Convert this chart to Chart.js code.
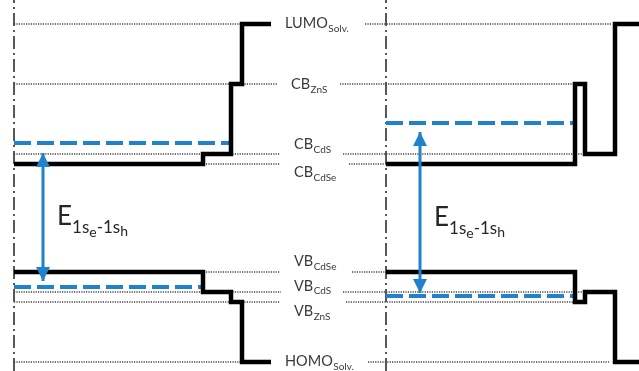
<!DOCTYPE html>
<html>
<head>
<meta charset="utf-8">
<script src="https://cdn.jsdelivr.net/npm/chart.js@4.4.1/dist/chart.umd.min.js"></script>
<style>
  html, body { margin: 0; padding: 0; background: #fff; }
  #wrap { width: 639px; height: 371px; }
</style>
</head>
<body>
<div id="wrap"><canvas id="bands" width="639" height="371"></canvas></div>
<script>
// Energy levels (arbitrary units)
const levelNames  = ['LUMO', 'CB', 'CB', 'CB', 'VB', 'VB', 'VB', 'HOMO'];
const levelSubs   = ['Solv.', 'ZnS', 'CdS', 'CdSe', 'CdSe', 'CdS', 'ZnS', 'Solv.'];
const levelEnergy = [347, 287, 217, 207, 99, 79, 69, 9];

// dotted guide lines: left and right part of every level
const leftDotFrom  = [14, 14, 14, 14, 14, 14, 14, 14];
const leftDotTo    = [242, 278, 280, 280, 280, 281, 280, 242];
const rightDotFrom = [365, 340, 343, 349, 352, 343, 346, 368];
const rightDotTo   = [612, 575, 616, 386, 386, 582, 574, 609];

// left: CdSe / CdS / ZnS / solvent
const leftBounds = [14, 203, 231, 242, 271];
const leftCB     = [207, 217, 287, 347];
const leftVB     = [99, 79, 69, 9];

// right: CdSe / ZnS / CdS / solvent
const rightBounds = [386, 575, 585, 615, 639];
const rightCB     = [207, 287, 217, 347];
const rightVB     = [99, 69, 79, 9];

// 1Se / 1Sh levels (left, right)
const exFrom   = [14, 386];
const exETo    = [231, 574];
const exHTo    = [201, 573];
const exE      = [228, 248];
const exH      = [84, 75];

// transition arrows
const arrowX      = [43, 420];
const arrowTop    = [218, 239];
const arrowBottom = [90, 78];

// particle centres (dash-dot axes)
const centreX = [14, 386];

const Y_MIN = 0, Y_MAX = 371, X_MIN = 0, X_MAX = 639;

const BLUE = '#2181ca';
const TEXT = '#3a3a3a';
const FONT = 'Lato, "Open Sans", sans-serif';

function steps(bounds, vals) {
    const pts = vals.map(function(v, i) { return { x: bounds[i], y: v }; });
    pts.push({ x: bounds[bounds.length - 1], y: vals[vals.length - 1] });
    return pts;
}

function seg(x0, x1, y) {
    return [{ x: x0, y: y }, { x: x1, y: y }];
}

const datasets = [];

centreX.forEach(function(x) {
    datasets.push({
        data: [{ x: x, y: Y_MIN }, { x: x, y: Y_MAX }],
        borderColor: '#222',
        borderWidth: 1.5,
        borderDash: [13, 4, 2, 4],
        order: 6
    });
});

levelEnergy.forEach(function(e, i) {
    [seg(leftDotFrom[i], leftDotTo[i], e), seg(rightDotFrom[i], rightDotTo[i], e)].forEach(function(d) {
        datasets.push({
            data: d,
            borderColor: '#444',
            borderWidth: 1.3,
            borderDash: [1.2, 1.2],
            order: 5
        });
    });
});

[0, 1].forEach(function(i) {
    datasets.push({ data: seg(exFrom[i], exETo[i], exE[i]), borderColor: BLUE, borderWidth: 4, borderDash: [17, 6], order: 3 });
    datasets.push({ data: seg(exFrom[i], exHTo[i], exH[i]), borderColor: BLUE, borderWidth: 4, borderDash: [17, 6], order: 3 });
});

// horizontal first, then vertical at the next boundary
[steps(leftBounds, leftCB), steps(leftBounds, leftVB),
 steps(rightBounds, rightCB), steps(rightBounds, rightVB)].forEach(function(d) {
    datasets.push({
        data: d,
        stepped: 'before',
        borderColor: '#000',
        borderWidth: 4.5,
        borderJoinStyle: 'miter',
        borderCapStyle: 'butt',
        order: 2
    });
});

[0, 1].forEach(function(i) {
    datasets.push({
        data: [{ x: arrowX[i], y: arrowTop[i] }, { x: arrowX[i], y: arrowBottom[i] }],
        borderColor: BLUE,
        borderWidth: 3,
        arrow: true,
        order: 1
    });
});

// arrow heads on both ends of the transition arrows
const arrowHeads = {
    id: 'arrowHeads',
    afterDatasetsDraw: function(chart) {
        const ctx = chart.ctx;
        chart.data.datasets.forEach(function(ds, i) {
            if (!ds.arrow) return;
            const pts = chart.getDatasetMeta(i).data;
            const top = pts[0], bot = pts[1];
            ctx.save();
            ctx.fillStyle = ds.borderColor;
            [[top, 1], [bot, -1]].forEach(function(p) {
                const x = p[0].x, y = p[0].y, dir = p[1];
                ctx.beginPath();
                ctx.moveTo(x, y);
                ctx.lineTo(x - 7, y + dir * 14);
                ctx.lineTo(x + 7, y + dir * 14);
                ctx.closePath();
                ctx.fill();
            });
            ctx.restore();
        });
    }
};

// level names with subscripts, and the transition label
const labelX  = [285, 291, 294, 294, 294, 294, 294, 285];
const labelDy = [-1, 0, -10, 8, -11, -6.5, 9, -1];
const transX  = [57, 434];
const transY  = [146, 145];

const bandLabels = {
    id: 'bandLabels',
    afterDraw: function(chart) {
        const ctx = chart.ctx;
        const xs = chart.scales.x, ys = chart.scales.y;
        ctx.save();
        ctx.fillStyle = TEXT;
        ctx.textBaseline = 'alphabetic';
        ctx.textAlign = 'left';
        levelNames.forEach(function(name, i) {
            let x = xs.getPixelForValue(labelX[i]);
            const base = ys.getPixelForValue(levelEnergy[i]) + labelDy[i] + 5;
            ctx.font = '14.5px ' + FONT;
            ctx.fillText(name, x, base);
            x += ctx.measureText(name).width;
            ctx.font = '10px ' + FONT;
            ctx.fillText(levelSubs[i], x + 0.5, base + 3.5);
        });

        // E_{1s_e-1s_h}
        const parts = [
            ['E', 26, 0], ['1s', 17, 8], ['e', 14, 12], ['-1s', 17, 8], ['h', 14, 11]
        ];
        ctx.fillStyle = '#262626';
        transX.forEach(function(tx, k) {
            let x = xs.getPixelForValue(tx);
            const base = ys.getPixelForValue(transY[k]);
            parts.forEach(function(p) {
                ctx.font = p[1] + 'px ' + FONT;
                ctx.fillText(p[0], x, base + p[2]);
                x += ctx.measureText(p[0]).width;
            });
        });
        ctx.restore();
    }
};

new Chart(document.getElementById('bands'), {
    type: 'line',
    data: { datasets: datasets },
    options: {
        responsive: false,
        animation: false,
        events: [],
        layout: { padding: 0 },
        elements: {
            point: { radius: 0, hoverRadius: 0 },
            line: { tension: 0, fill: false }
        },
        plugins: {
            legend: { display: false },
            tooltip: { enabled: false }
        },
        scales: {
            x: { type: 'linear', min: X_MIN, max: X_MAX, display: false },
            y: { type: 'linear', min: Y_MIN, max: Y_MAX, display: false }
        }
    },
    plugins: [arrowHeads, bandLabels]
});
</script>
</body>
</html>
